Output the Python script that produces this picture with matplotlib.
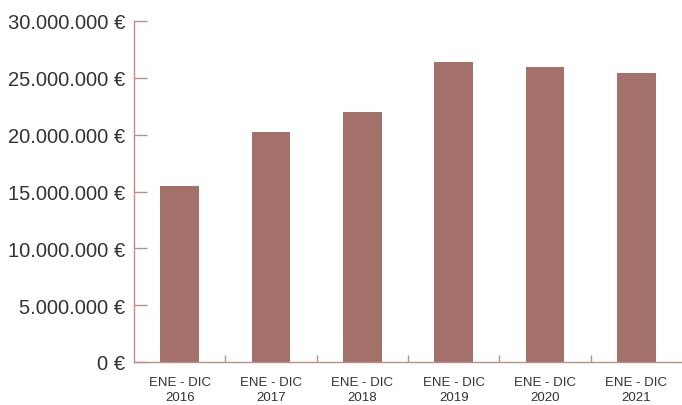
import numpy as np
import matplotlib
matplotlib.use("Agg")
import matplotlib.pyplot as plt

years = ["2016", "2017", "2018", "2019", "2020", "2021"]
labels = [f"ENE - DIC\n{y}" for y in years]
values = [15500000, 20250000, 22000000, 26400000, 25950000, 25400000]
yticks = [0, 5000000, 10000000, 15000000, 20000000, 25000000, 30000000]

bar_color = "#A3706A"
axis_color = "#BC8F8B"
text_color = "#333333"

plt.rcParams['font.family'] = ['Liberation Sans', 'DejaVu Sans']

fig = plt.figure(figsize=(6.82, 4.06), dpi=100)
ax = fig.add_axes([134 / 682, 43 / 406, 548 / 682, 341 / 406])

x = np.arange(len(years))
ax.bar(x, values, width=0.42, color=bar_color, zorder=2)

ax.set_xlim(-0.5, len(years) - 0.5)
ax.set_ylim(0, 30000000)

ax.set_yticks(yticks)
ax.set_yticklabels([f"{v:,}".replace(",", ".") + " €" for v in yticks],
                   fontsize=14.5, color=text_color)
ax.set_xticks(x)
ax.set_xticklabels(labels, fontsize=9.5, color=text_color, linespacing=1.4)
ax.set_xticks(np.arange(0.5, len(years) - 0.5, 1), minor=True)

ax.tick_params(axis="y", direction="in", length=9.5, width=1, color=axis_color, pad=6.5)
ax.tick_params(axis="x", which="major", length=0, pad=10)
ax.tick_params(axis="x", which="minor", direction="in", length=5, width=1, color=axis_color)

for side in ["top", "right"]:
    ax.spines[side].set_visible(False)
for side in ["left", "bottom"]:
    ax.spines[side].set_color(axis_color)
    ax.spines[side].set_linewidth(1)

fig.savefig("out.png", dpi=100)
